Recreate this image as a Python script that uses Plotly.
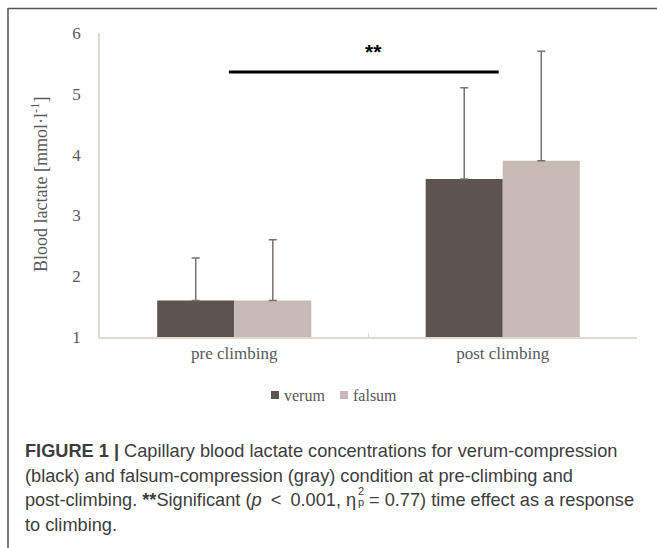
import plotly.graph_objects as go

categories = ["pre climbing", "post climbing"]
verum = [1.6, 3.6]
verum_sd = [0.7, 1.5]
falsum = [1.6, 3.9]
falsum_sd = [1.0, 1.8]
y_ticks = [1, 2, 3, 4, 5, 6]
sig_level = 5.36
sig_label = "**"
series_names = ["verum", "falsum"]
series_colors = ["#5d544f", "#c8b9b4"]

caption_lines = [
    "<b>FIGURE 1 |</b> Capillary blood lactate concentrations for verum-compression",
    "(black) and falsum-compression (gray) condition at pre-climbing and",
    None,
    "to climbing.",
]
caption_l3_left = "post-climbing. <b>**</b>Significant (<i>p</i>\u2002&lt;\u20020.001, η"
caption_l3_right = "= 0.77) time effect as a response"

W, H = 657, 548
L, R, T, B = 100, 637, 33, 337  # plot area in pixels


def px(x):
    return (x - L) / (R - L)


def py(y):
    return (B - y) / (B - T)


SERIF = "Liberation Serif, Times New Roman, serif"
SANS = "Liberation Sans, Arial, sans-serif"
TXT = "#595959"
CAP = "#3d3d3d"
CAPSIZE = 18.2

fig = go.Figure()
for name, vals, sd, col in [("verum", verum, verum_sd, series_colors[0]),
                            ("falsum", falsum, falsum_sd, series_colors[1])]:
    fig.add_trace(go.Bar(
        x=categories, y=vals, name=name, showlegend=False,
        marker=dict(color=col, line=dict(width=0)),
        error_y=dict(type="data", symmetric=False, array=sd,
                     arrayminus=[0] * len(vals), color="#7a716d",
                     thickness=1.5, width=4),
    ))

# significance bar
fig.add_shape(type="line", xref="x", yref="y", x0=-0.02, x1=0.985,
              y0=sig_level, y1=sig_level, line=dict(color="black", width=3))
fig.add_annotation(x=0.52, y=sig_level + 0.33, xref="x", yref="y",
                   text="<b>" + sig_label + "</b>", showarrow=False,
                   font=dict(family="Liberation Sans, Arial", size=21, color="black"))

# y-axis title
fig.add_annotation(x=px(39), y=0.5, xref="paper", yref="paper",
                   text="Blood lactate [mmol·l<sup>-1</sup>]", textangle=-90,
                   showarrow=False, xanchor="center", yanchor="middle",
                   font=dict(family=SERIF, size=18, color=TXT))

# legend (swatches + labels)
leg_sq_x = [271, 340]
for i, name in enumerate(series_names):
    x0 = leg_sq_x[i]
    fig.add_shape(type="rect", xref="paper", yref="paper",
                  x0=px(x0), x1=px(x0 + 8), y0=py(399), y1=py(391),
                  fillcolor=series_colors[i], line=dict(width=0))
    fig.add_annotation(x=px(x0 + 11), y=py(395), xref="paper", yref="paper",
                       text=name, showarrow=False, xanchor="left", yanchor="middle",
                       font=dict(family=SERIF, size=16, color=TXT))

# caption
line_y = [451, 475.5, 500, 524.5]
for i, line in enumerate(caption_lines):
    if line is None:
        continue
    fig.add_annotation(x=px(23), y=py(line_y[i]), xref="paper", yref="paper",
                       text=line, showarrow=False, xanchor="left", yanchor="middle",
                       align="left", font=dict(family=SANS, size=CAPSIZE, color=CAP))
fig.add_annotation(x=px(23), y=py(line_y[2]), xref="paper", yref="paper",
                   text=caption_l3_left, showarrow=False, xanchor="left",
                   yanchor="middle", font=dict(family=SANS, size=CAPSIZE, color=CAP))
fig.add_annotation(x=px(356), y=py(491), xref="paper", yref="paper",
                   text="2", showarrow=False, xanchor="left", yanchor="middle",
                   font=dict(family=SANS, size=11, color=CAP))
fig.add_annotation(x=px(356), y=py(502), xref="paper", yref="paper",
                   text="p", showarrow=False, xanchor="left", yanchor="middle",
                   font=dict(family=SANS, size=11, color=CAP))
fig.add_annotation(x=px(367), y=py(line_y[2]), xref="paper", yref="paper",
                   text=caption_l3_right, showarrow=False, xanchor="left",
                   yanchor="middle", font=dict(family=SANS, size=CAPSIZE, color=CAP))

# frame (left and top)
fig.add_shape(type="line", xref="paper", yref="paper",
              x0=px(8), x1=px(8), y0=py(8), y1=py(560),
              line=dict(color="#555555", width=1.5))
fig.add_shape(type="line", xref="paper", yref="paper",
              x0=px(8), x1=px(670), y0=py(8.5), y1=py(8.5),
              line=dict(color="#555555", width=1.5))

fig.update_layout(
    width=W, height=H,
    margin=dict(l=L, r=W - R, t=T, b=H - B, pad=0),
    paper_bgcolor="white", plot_bgcolor="white",
    barmode="group", bargap=0.426, bargroupgap=0,
    showlegend=False,
    xaxis=dict(showline=True, linecolor="#e3d9d3", linewidth=1.5,
               ticks="inside", tickson="boundaries", ticklen=4,
               tickcolor="#e3d9d3", showgrid=False, zeroline=False,
               tickfont=dict(family=SERIF, size=17, color=TXT)),
    yaxis=dict(range=[1, 6], tickvals=y_ticks, showline=True,
               linecolor="#e3d9d3", linewidth=1.5, showgrid=False,
               zeroline=False, ticks="", ticklabelstandoff=14,
               tickfont=dict(family=SERIF, size=17, color=TXT)),
)

fig.write_html("out.html")
